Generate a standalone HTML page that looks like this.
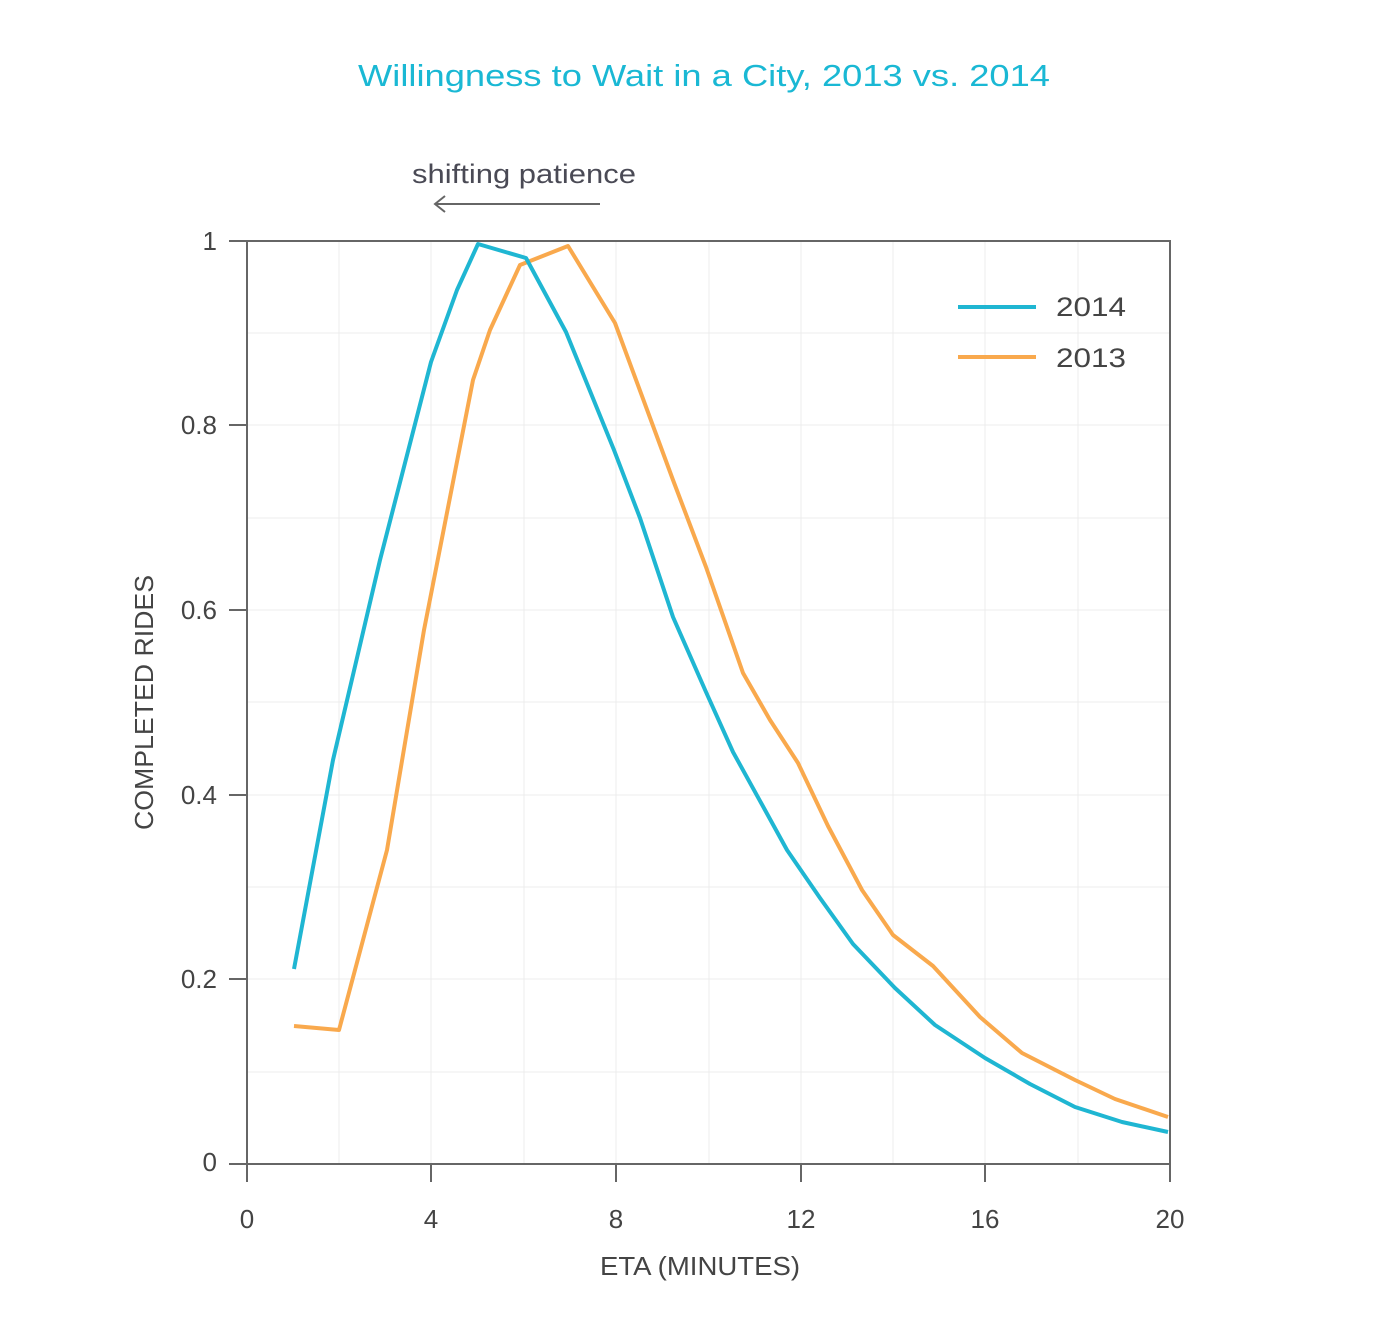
<!DOCTYPE html>
<html><head><meta charset="utf-8"><style>body{margin:0;background:#fff}</style></head><body>
<svg width="1378" height="1334" xmlns="http://www.w3.org/2000/svg" font-family="Liberation Sans, sans-serif">
<rect width="1378" height="1334" fill="#fff"/>
<text x="358" y="86" font-size="31" fill="#1ab8d4" textLength="692" lengthAdjust="spacingAndGlyphs">Willingness to Wait in a City, 2013 vs. 2014</text>
<text x="412" y="183" font-size="27" fill="#4a4a55" textLength="224" lengthAdjust="spacingAndGlyphs">shifting patience</text>
<line x1="435" y1="204" x2="600" y2="204" stroke="#666" stroke-width="2"/>
<polyline points="445,196 435,204 445,212" fill="none" stroke="#666" stroke-width="2"/>
<g stroke="#ececec" stroke-width="1">
<line x1="339" y1="241" x2="339" y2="1164"/><line x1="431" y1="241" x2="431" y2="1164"/><line x1="524" y1="241" x2="524" y2="1164"/><line x1="616" y1="241" x2="616" y2="1164"/><line x1="709" y1="241" x2="709" y2="1164"/><line x1="801" y1="241" x2="801" y2="1164"/><line x1="893" y1="241" x2="893" y2="1164"/><line x1="985" y1="241" x2="985" y2="1164"/><line x1="1078" y1="241" x2="1078" y2="1164"/>
<line x1="247" y1="333" x2="1170" y2="333"/><line x1="247" y1="425" x2="1170" y2="425"/><line x1="247" y1="518" x2="1170" y2="518"/><line x1="247" y1="610" x2="1170" y2="610"/><line x1="247" y1="702" x2="1170" y2="702"/><line x1="247" y1="795" x2="1170" y2="795"/><line x1="247" y1="887" x2="1170" y2="887"/><line x1="247" y1="979" x2="1170" y2="979"/><line x1="247" y1="1072" x2="1170" y2="1072"/>
</g>
<rect x="247" y="241" width="923" height="923" fill="none" stroke="#666" stroke-width="2"/>
<g stroke="#666" stroke-width="2">
<line x1="229" y1="241" x2="247" y2="241"/><line x1="229" y1="425" x2="247" y2="425"/><line x1="229" y1="610" x2="247" y2="610"/><line x1="229" y1="795" x2="247" y2="795"/><line x1="229" y1="979" x2="247" y2="979"/><line x1="229" y1="1164" x2="247" y2="1164"/>
<line x1="247" y1="1164" x2="247" y2="1182"/><line x1="431" y1="1164" x2="431" y2="1182"/><line x1="616" y1="1164" x2="616" y2="1182"/><line x1="801" y1="1164" x2="801" y2="1182"/><line x1="985" y1="1164" x2="985" y2="1182"/><line x1="1170" y1="1164" x2="1170" y2="1182"/>
</g>
<g font-size="26" fill="#444" text-anchor="end">
<text x="217" y="250">1</text><text x="217" y="434">0.8</text><text x="217" y="619">0.6</text><text x="217" y="804">0.4</text><text x="217" y="988">0.2</text><text x="217" y="1171">0</text>
</g>
<g font-size="26" fill="#444" text-anchor="middle">
<text x="247" y="1228">0</text><text x="431" y="1228">4</text><text x="616" y="1228">8</text><text x="801" y="1228">12</text><text x="985" y="1228">16</text><text x="1170" y="1228">20</text>
</g>
<text x="600" y="1275" font-size="26" fill="#444" textLength="200" lengthAdjust="spacingAndGlyphs">ETA (MINUTES)</text>
<text transform="translate(153,830) rotate(-90)" font-size="26" fill="#444" textLength="255" lengthAdjust="spacingAndGlyphs">COMPLETED RIDES</text>
<polyline fill="none" stroke="#f9a94d" stroke-width="4" stroke-linejoin="round" points="294,1026 339,1030 387,850 424,630 473,380 490,330 520,265 568,246 615,323 673,480 706,567 743,673 770,720 798,763 828,826 862,890 893,935 933,966 980,1017 1022,1053 1075,1080 1115,1099 1168,1117"/>
<polyline fill="none" stroke="#1fb6d2" stroke-width="4" stroke-linejoin="round" points="294,969 333,760 380,560 431,362 457,290 478,244 526,258 566,332 614,450 640,518 673,617 706,692 733,752 765,810 787,850 820,898 853,944 895,988 935,1025 985,1058 1030,1084 1075,1107 1122,1122 1168,1132"/>
<line x1="958" y1="307" x2="1036" y2="307" stroke="#1fb6d2" stroke-width="4"/>
<line x1="958" y1="357" x2="1036" y2="357" stroke="#f9a94d" stroke-width="4"/>
<text x="1056" y="316" font-size="27" fill="#444" textLength="70" lengthAdjust="spacingAndGlyphs">2014</text>
<text x="1056" y="367" font-size="27" fill="#444" textLength="70" lengthAdjust="spacingAndGlyphs">2013</text>
</svg>
</body></html>
